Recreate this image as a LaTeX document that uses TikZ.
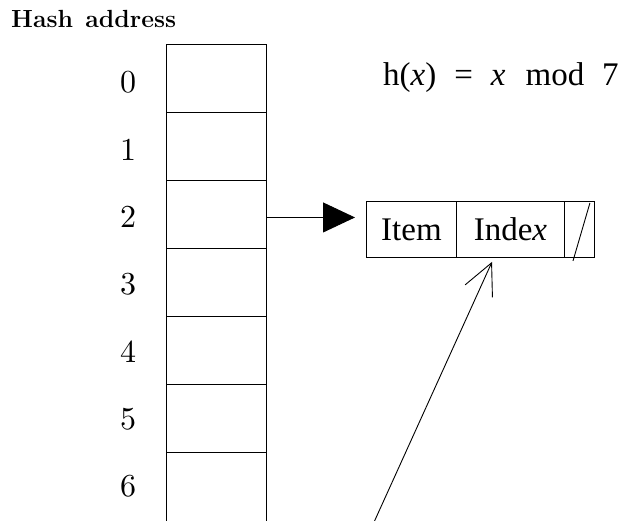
\documentclass[tikz,border=0pt]{standalone}
\usepackage{fontspec}
\newfontfamily\timesf{Liberation Serif}
\newfontfamily\lmten{lmroman10-regular}[Extension=.otf]
\usetikzlibrary{arrows.meta,calc}
\begin{document}
\begin{tikzpicture}[x=1pt,y=-1pt,
  cell/.style={draw,line width=0.9pt,minimum width=100pt,minimum height=68pt,inner sep=0pt,anchor=north west},
  lcell/.style={draw,line width=0.9pt,minimum height=56pt,inner sep=0pt,anchor=north west},
  idx/.style={font=\lmten\fontsize{32}{32}\selectfont,inner sep=0pt},
  ltext/.style={font=\timesf\fontsize{33}{33}\selectfont},
  conn/.style={line width=0.9pt}]
\useasboundingbox (0,0) rectangle (624,520);
\clip (0,0) rectangle (624,520);
\node[font=\fontsize{24.8}{25}\selectfont\bfseries,anchor=base west,inner sep=0pt] (title) at (11,27) {Hash\hspace{3pt} address};
\node[cell] (r0) at (166,44) {};
\node[cell] (r1) at (166,112) {};
\node[cell] (r2) at (166,180) {};
\node[cell] (r3) at (166,248) {};
\node[cell] (r4) at (166,316) {};
\node[cell] (r5) at (166,384) {};
\node[cell,minimum height=90pt] (r6) at (166,452) {};
\node[idx] (n0) at (128,82) {0};
\node[idx] (n1) at (128,150) {1};
\node[idx] (n2) at (128,217) {2};
\node[idx] (n3) at (128,284) {3};
\node[idx] (n4) at (128,352) {4};
\node[idx] (n5) at (128,419) {5};
\node[idx] (n6) at (128,486) {6};
\node[font=\timesf\fontsize{33}{33}\selectfont,anchor=base west,inner sep=0pt] (hash) at (383,85)
  {h(\textit{x})\hspace{18pt}=\hspace{18pt}\textit{x}\hspace{20pt}mod\hspace{18pt}7};
\node[lcell,ltext,minimum width=90pt] (item) at (366,201) {Item};
\node[lcell,ltext,minimum width=108pt] (index) at (456,201) {Inde\textit{x}};
\node[lcell,minimum width=30pt] (nil) at (564,201) {};
\draw[conn] ($(nil.north east)+(-5,2)$) -- ($(nil.south west)+(9,3)$);
\draw[conn,-{Triangle[length=32pt,width=30pt]}] ($(r2.east)+(0,3)$) -- ($(item.west)+(-11,-12)$);
\coordinate (tail) at (370,531);
\draw[conn,-{Straight Barb[length=31pt,width=30pt]}] (tail) -- ($(index.south west)+(36,4)$);
\end{tikzpicture}
\end{document}
